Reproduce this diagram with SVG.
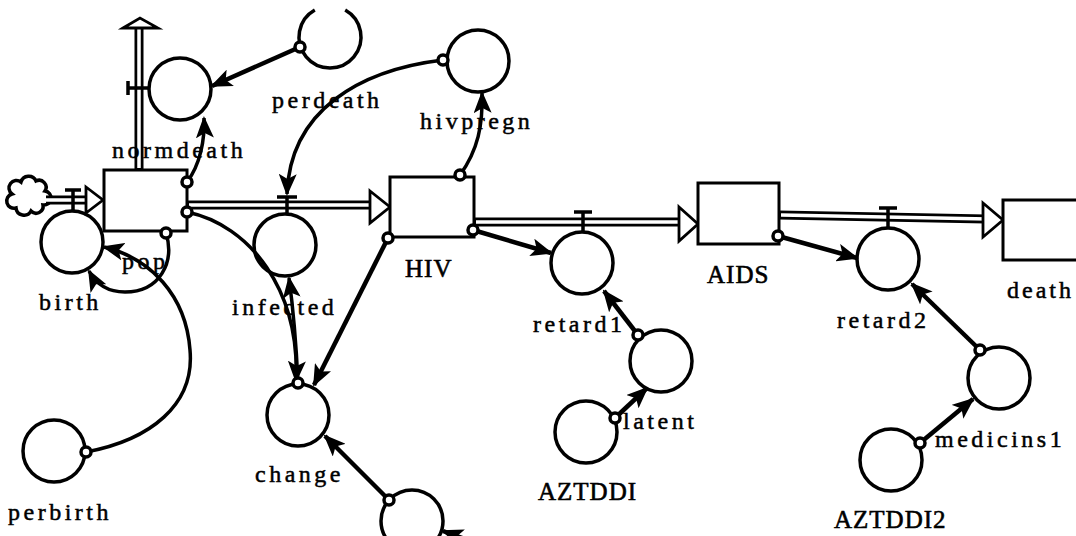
<svg xmlns="http://www.w3.org/2000/svg" width="1076" height="536" viewBox="0 0 1076 536">
<style>
.stock{fill:#fff;stroke:#000;stroke-width:3}
.conv{fill:none;stroke:#000;stroke-width:3.5}
.po{fill:none;stroke:#000;stroke-width:9}
.pi{fill:none;stroke:#fff;stroke-width:3.5}
.ph{fill:#fff;stroke:#000;stroke-width:2.8;stroke-linejoin:miter}
.valve{fill:none;stroke:#000;stroke-width:3.5}
.c{fill:none;stroke:#000;stroke-width:3.5;marker-end:url(#ah)}
.cs{fill:none;stroke:#000;stroke-width:4.5;marker-end:url(#ah)}
.org{fill:#fff;stroke:#000;stroke-width:3.5}
.lbl{font-family:"Liberation Serif",serif;font-size:24px;letter-spacing:3.5px;fill:#000;stroke:#000;stroke-width:0.5}
.cap{font-family:"Liberation Serif",serif;font-size:25px;letter-spacing:1px;fill:#000;stroke:#000;stroke-width:0.6}
</style>
<defs>
<marker id="ah" viewBox="0 0 22 18" refX="20" refY="9" markerWidth="22" markerHeight="18" markerUnits="userSpaceOnUse" orient="auto">
<path d="M0,0 L22,9 L0,18 L5,9 z" fill="#000"/>
</marker>
</defs>
<rect width="1076" height="536" fill="#fff"/>

<g id="flows">
<path d="M12,194 a7,7 0 0,1 9,-12 a8,8 0 0,1 15,-1 a7,7 0 0,1 9,10 a7,7 0 0,1 -2,14 a7,7 0 0,1 -12,6 a8,8 0 0,1 -15,-3 a7,7 0 0,1 -4,-14 z" fill="#fff" stroke="#000" stroke-width="3.5"/>
<line class="po" x1="46" y1="200" x2="88" y2="200"/><line class="pi" x1="44" y1="200" x2="90" y2="200"/>
<polygon class="ph" points="86,187 103,200 86,213"/>
<line class="po" x1="139" y1="170" x2="139" y2="27"/><line class="pi" x1="139" y1="168" x2="139" y2="26"/>
<polygon class="ph" points="123,28 140,18 158,28"/>
<line class="po" x1="187" y1="205" x2="372" y2="205"/><line class="pi" x1="189" y1="205" x2="374" y2="205"/>
<polygon class="ph" points="370,191 390,207 370,223"/>
<line class="po" x1="474" y1="222" x2="681" y2="222"/><line class="pi" x1="476" y1="222" x2="683" y2="222"/>
<polygon class="ph" points="679,207 698,224 679,241"/>
<line class="po" x1="779" y1="215" x2="986" y2="219"/><line class="pi" x1="781" y1="215" x2="988" y2="219"/>
<polygon class="ph" points="983,203 1003,220 983,237"/>
<path class="valve" d="M65,190 H81 M73,190 V211"/>
<path class="valve" d="M128,81 V95 M128,88 H149"/>
<path class="valve" d="M277,197 H297 M287,197 V214"/>
<path class="valve" d="M574,212 H592 M583,212 V232"/>
<path class="valve" d="M879,208 H897 M888,208 V228"/>
</g>

<g id="pop"><rect class="stock" x="104" y="170" width="83" height="61"/><text class="lbl" x="122" y="269">pop</text></g>
<g id="HIV"><rect class="stock" x="390" y="177" width="84" height="60"/><text class="cap" x="405" y="277">HIV</text></g>
<g id="AIDS"><rect class="stock" x="698" y="183" width="81" height="61"/><text class="cap" x="707" y="283">AIDS</text></g>
<g id="death"><rect class="stock" x="1003" y="200" width="80" height="60"/><text class="lbl" x="1007" y="298" style="letter-spacing:3px">death</text></g>

<g id="birth"><circle class="conv" cx="72" cy="242" r="31"/><text class="lbl" x="39" y="310">birth</text></g>
<g id="normdeath"><circle class="conv" cx="180" cy="89" r="31"/><text class="lbl" x="112" y="158">normdeath</text></g>
<g id="perdeath"><path class="conv" d="M314.8,10 A31,31 0 1,0 345.2,10"/><text class="lbl" x="272" y="108">perdeath</text></g>
<g id="hivpregn"><circle class="conv" cx="478" cy="61" r="31"/><text class="lbl" x="420" y="129">hivpregn</text></g>
<g id="infected"><circle class="conv" cx="285" cy="245" r="31"/><text class="lbl" x="232" y="315">infected</text></g>
<g id="change"><circle class="conv" cx="298" cy="415" r="31"/><text class="lbl" x="255" y="482">change</text></g>
<g id="perbirth"><circle class="conv" cx="54" cy="451" r="31"/><text class="lbl" x="8" y="520">perbirth</text></g>
<g id="unnamed"><circle class="conv" cx="412" cy="521" r="31"/></g>
<g id="retard1"><circle class="conv" cx="582" cy="263" r="31"/><text class="lbl" x="533" y="332">retard1</text></g>
<g id="latent"><circle class="conv" cx="661" cy="361" r="31"/><text class="lbl" x="623" y="429">latent</text></g>
<g id="AZTDDI"><circle class="conv" cx="586" cy="432" r="31"/><text class="cap" x="538" y="500">AZTDDI</text></g>
<g id="retard2"><circle class="conv" cx="888" cy="259" r="31"/><text class="lbl" x="837" y="328">retard2</text></g>
<g id="medicins1"><circle class="conv" cx="999" cy="378" r="31"/><text class="lbl" x="935" y="447">medicins1</text></g>
<g id="AZTDDI2"><circle class="conv" cx="891" cy="460" r="31"/><text class="cap" x="834" y="528">AZTDDI2</text></g>

<g id="connectors">
<path class="cs" d="M300,47 L212,86"/>
<path class="c" d="M187,182 C200,165 205,140 204,118"/>
<path class="c" d="M443,60 C360,70 290,110 287,194"/>
<path class="c" d="M460,175 C478,150 483,125 482,93"/>
<path class="c" d="M166,233 C175,262 160,292 125,292 C108,292 96,284 89,271"/>
<path class="c" d="M86,452 C150,440 195,405 190,350 C186,295 150,258 104,247"/>
<path class="c" d="M187,212 C250,225 300,290 296,381"/>
<path class="c" d="M298,383 C296,340 292,300 289,278"/>
<path class="cs" d="M388,238 L314,385"/>
<path class="cs" d="M473,230 L551,253"/>
<path class="cs" d="M638,335 L604,291"/>
<path class="cs" d="M615,418 L647,388"/>
<path class="cs" d="M778,236 L857,258"/>
<path class="cs" d="M980,350 L912,284"/>
<path class="cs" d="M920,443 L973,399"/>
<path class="cs" d="M389,500 L325,436"/>
<path class="cs" d="M492,549 L443,531"/>
<circle class="org" cx="300" cy="47" r="5"/>
<circle class="org" cx="187" cy="182" r="5"/>
<circle class="org" cx="443" cy="60" r="5"/>
<circle class="org" cx="460" cy="175" r="5"/>
<circle class="org" cx="166" cy="233" r="5"/>
<circle class="org" cx="86" cy="452" r="5"/>
<circle class="org" cx="187" cy="212" r="5"/>
<circle class="org" cx="298" cy="383" r="5"/>
<circle class="org" cx="388" cy="238" r="5"/>
<circle class="org" cx="473" cy="230" r="5"/>
<circle class="org" cx="638" cy="335" r="5"/>
<circle class="org" cx="615" cy="418" r="5"/>
<circle class="org" cx="778" cy="236" r="5"/>
<circle class="org" cx="980" cy="350" r="5"/>
<circle class="org" cx="920" cy="443" r="5"/>
<circle class="org" cx="389" cy="500" r="5"/>
</g>
</svg>
